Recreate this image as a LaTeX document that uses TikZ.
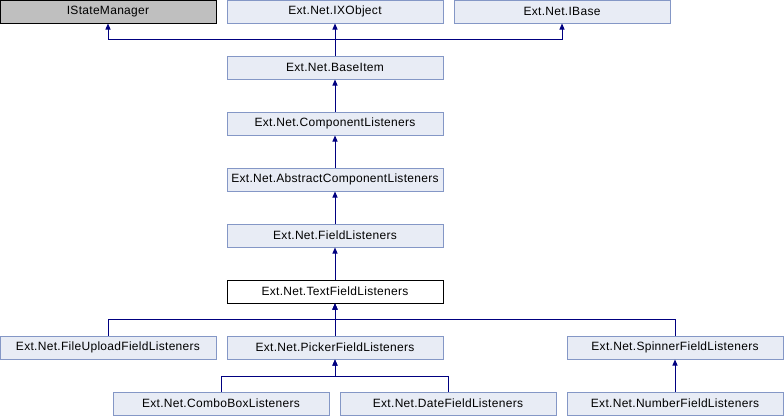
\documentclass[tikz,border=0pt]{standalone}
\usepackage{fontspec}
\setmainfont[LetterSpace=2.5]{Liberation Sans}
\usetikzlibrary{arrows.meta}
\definecolor{boxfill}{RGB}{232,236,245}
\definecolor{boxline}{RGB}{132,151,198}
\definecolor{linkc}{RGB}{0,0,128}
\definecolor{grayfill}{RGB}{191,191,191}
\begin{document}
\begin{tikzpicture}[x=1pt,y=-1pt,
  cls/.style={draw=boxline,fill=boxfill,line width=1pt,minimum width=216pt,minimum height=23pt,inner sep=0pt,font=\fontsize{12}{14}\selectfont},
  cur/.style={cls,draw=black,fill=white},
  ext/.style={cls,draw=black,fill=grayfill},
  inh/.style={draw=linkc,line width=1pt,-{Triangle[width=5pt,length=6pt]}}]
\useasboundingbox (0,0) rectangle (784,416);
\node[ext] (ism) at (108,11.5) {IStateManager};
\node[cls] (ixo) at (335,11.5) {Ext.Net.IXObject};
\node[cls] (ib) at (562,11.5) {Ext.Net.IBase};
\node[cls] (bi) at (335,67.5) {Ext.Net.BaseItem};
\node[cls] (cl) at (335,123.5) {Ext.Net.ComponentListeners};
\node[cls] (acl) at (335,179.5) {Ext.Net.AbstractComponentListeners};
\node[cls] (fl) at (335,235.5) {Ext.Net.FieldListeners};
\node[cur] (tfl) at (335,291.5) {Ext.Net.TextFieldListeners};
\node[cls] (fufl) at (108,347.5) {Ext.Net.FileUploadFieldListeners};
\node[cls] (pfl) at (335,347.5) {Ext.Net.PickerFieldListeners};
\node[cls] (sfl) at (675,347.5) {Ext.Net.SpinnerFieldListeners};
\node[cls] (cbl) at (221,403.5) {Ext.Net.ComboBoxListeners};
\node[cls] (dfl) at (448,403.5) {Ext.Net.DateFieldListeners};
\node[cls] (nfl) at (675,403.5) {Ext.Net.NumberFieldListeners};
\draw[inh] (bi.north) -- ++(0,-16) -| (ism.south);
\draw[inh] (bi.north) -- (ixo.south);
\draw[inh] (bi.north) -- ++(0,-16) -| (ib.south);
\draw[inh] (cl.north) -- (bi.south);
\draw[inh] (acl.north) -- (cl.south);
\draw[inh] (fl.north) -- (acl.south);
\draw[inh] (tfl.north) -- (fl.south);
\draw[inh] (fufl.north) -- ++(0,-16) -| (tfl.south);
\draw[inh] (pfl.north) -- (tfl.south);
\draw[inh] (sfl.north) -- ++(0,-16) -| (tfl.south);
\draw[inh] (cbl.north) -- ++(0,-15.5) -| (pfl.south);
\draw[inh] (dfl.north) -- ++(0,-15.5) -| (pfl.south);
\draw[inh] (nfl.north) -- (sfl.south);
\end{tikzpicture}
\end{document}
